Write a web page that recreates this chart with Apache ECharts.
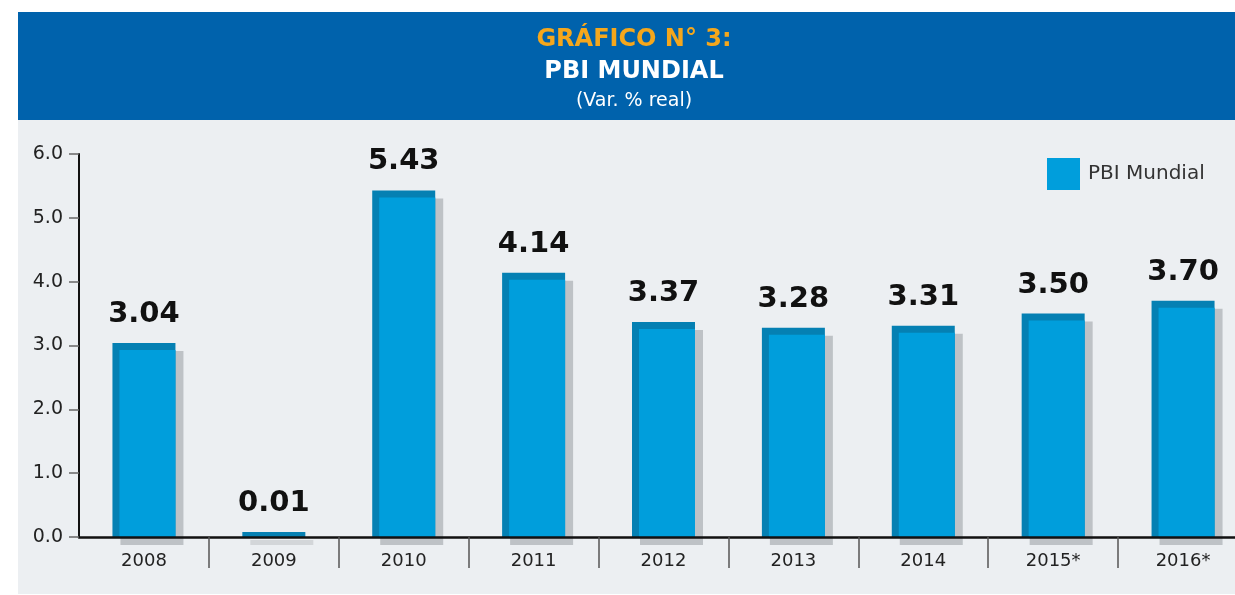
<!DOCTYPE html>
<html>
<head>
<meta charset="utf-8">
<script src="https://cdn.jsdelivr.net/npm/echarts@6/dist/echarts.min.js"></script>
<style>
  html, body { margin: 0; padding: 0; background: #fff; }
  #main { width: 1235px; height: 595px; }
</style>
</head>
<body>
<div id="main"></div>
<script>
// datos del gráfico
const years = ['2008', '2009', '2010', '2011', '2012', '2013', '2014', '2015*', '2016*']
const pbiMundial = [3.04, 0.01, 5.43, 4.14, 3.37, 3.28, 3.31, 3.50, 3.70]
const yTicks = [0, 1, 2, 3, 4, 5, 6]

const FONT = 'DejaVu Sans'
const chart = echarts.init(document.getElementById('main'))

// cada barra: sombra gris, borde oscuro arriba/izquierda y cuerpo celeste
const renderBar = (params, api) => {
  const cat = api.value(0)
  const v = api.value(1)
  const top = api.coord([cat, v])
  const base = api.coord([cat, 0])
  const w = api.size([1, 0])[0] * 0.485
  const x0 = top[0] - w / 2
  const h = Math.max(base[1] - top[1], 5)
  const y0 = base[1] - h
  const children = [
    { type: 'rect', shape: { x: x0 + 8, y: y0 + 8, width: w, height: h }, style: { fill: h > 8 ? '#BEC2C6' : '#D3D6D9' } },
    { type: 'rect', shape: { x: x0, y: y0, width: w, height: h }, style: { fill: '#0580B3' } }
  ]
  if (h > 8) {
    children.push({ type: 'rect', shape: { x: x0 + 7, y: y0 + 7, width: w - 7, height: h - 7 }, style: { fill: '#009EDC' } })
  }
  children.push({
    type: 'text',
    style: {
      text: v.toFixed(2), x: top[0], y: y0 - 14,
      align: 'center', verticalAlign: 'bottom',
      font: 'bold 29px "' + FONT + '"', fill: '#111'
    }
  })
  return { type: 'group', children }
}

const option = {
  animation: false,
  textStyle: { fontFamily: FONT },
  graphic: [
    { type: 'rect', z: -10, shape: { x: 18, y: 12, width: 1217, height: 108 }, style: { fill: '#0062AC' } },
    { type: 'rect', z: -10, shape: { x: 18, y: 120, width: 1217, height: 474 }, style: { fill: '#ECEFF2' } },
    { type: 'text', style: { text: 'GRÁFICO N° 3:', x: 634, y: 40, align: 'center', verticalAlign: 'middle', font: 'bold 24px "' + FONT + '"', fill: '#F5A71C' } },
    { type: 'text', style: { text: 'PBI MUNDIAL', x: 634, y: 72, align: 'center', verticalAlign: 'middle', font: 'bold 24px "' + FONT + '"', fill: '#fff' } },
    { type: 'text', style: { text: '(Var. % real)', x: 634, y: 101, align: 'center', verticalAlign: 'middle', font: '19px "' + FONT + '"', fill: '#fff' } }
  ],
  legend: {
    data: ['PBI Mundial'],
    left: 1042, top: 153,
    icon: 'rect', itemWidth: 33, itemHeight: 32,
    textStyle: { fontSize: 20, color: '#333', padding: [12, 0, 0, 3] }
  },
  grid: { left: 79, top: 154, width: 1169, height: 383, outerBoundsMode: 'none', containLabel: false },
  xAxis: {
    type: 'category',
    data: years,
    z: 5,
    axisLine: { lineStyle: { color: '#111', width: 2.5 } },
    axisTick: { show: true, interval: (index) => index !== 0, length: 31, lineStyle: { color: '#555', width: 1.5 } },
    axisLabel: { fontSize: 18, color: '#222', margin: 15 }
  },
  yAxis: {
    type: 'value',
    min: yTicks[0], max: yTicks[yTicks.length - 1], interval: 1,
    z: 5,
    splitLine: { show: false },
    axisLine: { show: true, lineStyle: { color: '#111', width: 2 } },
    axisTick: { show: true, length: 10, lineStyle: { color: '#666', width: 1.5 } },
    axisLabel: { fontSize: 19, color: '#222', margin: 16, formatter: (v) => v.toFixed(1) }
  },
  series: [
    {
      name: 'PBI Mundial',
      type: 'custom',
      renderItem: renderBar,
      itemStyle: { color: '#009EDC' },
      encode: { x: 0, y: 1 },
      data: pbiMundial.map((v, i) => [i, v])
    }
  ]
}

chart.setOption(option)
</script>
</body>
</html>
